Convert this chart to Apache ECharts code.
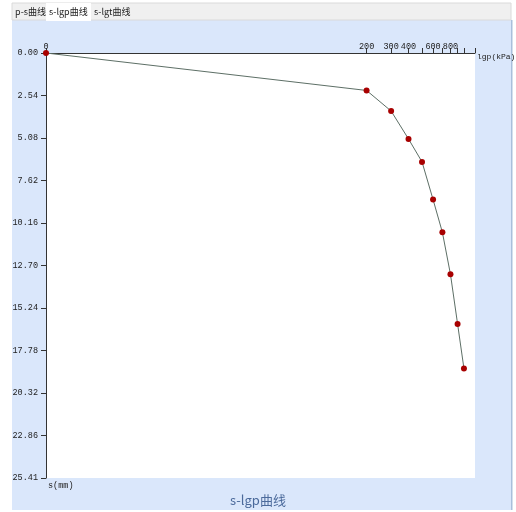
<!DOCTYPE html>
<html>
<head>
<meta charset="utf-8">
<script src="https://cdn.jsdelivr.net/npm/echarts@6/dist/echarts.min.js"></script>
<style>
html,body{margin:0;padding:0;background:#ffffff;}
#chart{width:516px;height:512px;}
</style>
</head>
<body>
<div id="chart"></div>
<script>
// Data
var loads = [0, 200, 300, 400, 500, 600, 700, 800, 900, 1000];          // p (kPa)
var settlements = [0, 2.24, 3.47, 5.14, 6.51, 8.76, 10.72, 13.23, 16.20, 18.87]; // s (mm)
var xTickLoads = [0, 200, 300, 400, 500, 600, 700, 800, 900, 1000, 1200];
var xLabelLoads = [0, 200, 300, 400, 600, 800];
var yTickLabels = [0, 2.54, 5.08, 7.62, 10.16, 12.70, 15.24, 17.78, 20.32, 22.86, 25.41];
var tabNames = ['p-s曲线', 's-lgp曲线', 's-lgt曲线'];
var chartTitle = 's-lgp曲线';

var originLoad = 1;     // log axis origin (lg = 0), labelled "0"
var maxLoad = 1200;
function lg(p) { return p > 0 ? Math.log10(p) : Math.log10(originLoad); }

var seriesData = loads.map(function (p, i) { return [lg(p), settlements[i]]; });

var monoFont = '"Liberation Mono", "DejaVu Sans Mono", monospace';
var cjkFont = '"Noto Sans CJK SC", sans-serif';

var chart = echarts.init(document.getElementById('chart'), null, {renderer: 'canvas'});

var tabX = [12, 46, 91];
var tabW = [33, 45, 40];
var graphics = [
  {type: 'rect', z: -10, shape: {x: 12, y: 20, width: 499, height: 490}, style: {fill: '#dae7fb'}},
  {type: 'rect', z: -10, shape: {x: 511, y: 20, width: 1.5, height: 490}, style: {fill: '#a9bfdc'}},
  {type: 'rect', z: -10, shape: {x: 12, y: 3, width: 499, height: 17}, style: {fill: '#f0f0f0', stroke: '#dadada', lineWidth: 1}}
];
tabNames.forEach(function (name, i) {
  if (i === 1) {
    graphics.push({type: 'rect', z: -9, shape: {x: tabX[i], y: 3, width: tabW[i], height: 18}, style: {fill: '#ffffff'}});
  }
  graphics.push({type: 'text', z: -8, x: tabX[i] + 3, y: 11.5, style: {text: name, fill: '#222', font: '9px ' + cjkFont, verticalAlign: 'middle'}});
});

chart.setOption({
  animation: false,
  backgroundColor: '#ffffff',
  title: {
    text: chartTitle, left: 'center', top: 489,
    textStyle: {color: '#4b6a9b', fontSize: 13, fontWeight: 'normal', fontFamily: cjkFont}
  },
  graphic: graphics,
  grid: {left: 46, top: 53, width: 429, height: 425, show: true, backgroundColor: '#ffffff', borderWidth: 0,
         containLabel: false, outerBoundsMode: 'none'},
  xAxis: {
    type: 'value', position: 'top',
    min: lg(originLoad), max: Math.log10(maxLoad),
    name: 'lgp(kPa)', nameLocation: 'end', nameGap: 2,
    nameTextStyle: {color: '#222', fontSize: 8, fontFamily: monoFont, align: 'left', verticalAlign: 'top', padding: [0, 0, 0, 0]},
    axisLine: {show: true, lineStyle: {color: '#333', width: 1}},
    axisTick: {show: true, inside: false, length: 5, lineStyle: {color: '#333'}, customValues: xTickLoads.map(lg)},
    axisLabel: {
      color: '#222', fontSize: 8.5, fontFamily: monoFont, margin: 2,
      customValues: xLabelLoads.map(lg),
      formatter: function (v) { return v <= 1e-9 ? '0' : String(Math.round(Math.pow(10, v))); }
    },
    splitLine: {show: false}
  },
  yAxis: {
    type: 'value', inverse: true, min: 0, max: 25.41,
    name: 's(mm)', nameLocation: 'end', nameGap: 3,
    nameTextStyle: {color: '#222', fontSize: 8.5, fontFamily: monoFont, align: 'left', verticalAlign: 'top', padding: [0, 0, 0, 2]},
    axisLine: {show: true, lineStyle: {color: '#333', width: 1}},
    axisTick: {show: true, inside: false, length: 5, lineStyle: {color: '#333'}, customValues: yTickLabels},
    axisLabel: {
      color: '#222', fontSize: 8.5, fontFamily: monoFont, margin: 8,
      customValues: yTickLabels,
      formatter: function (v) { return v.toFixed(2); }
    },
    splitLine: {show: false}
  },
  series: [{
    type: 'line',
    data: seriesData,
    symbol: 'circle', symbolSize: 6,
    itemStyle: {color: '#a80000'},
    lineStyle: {color: '#5d6f66', width: 1},
    clip: false
  }]
});
</script>
</body>
</html>
